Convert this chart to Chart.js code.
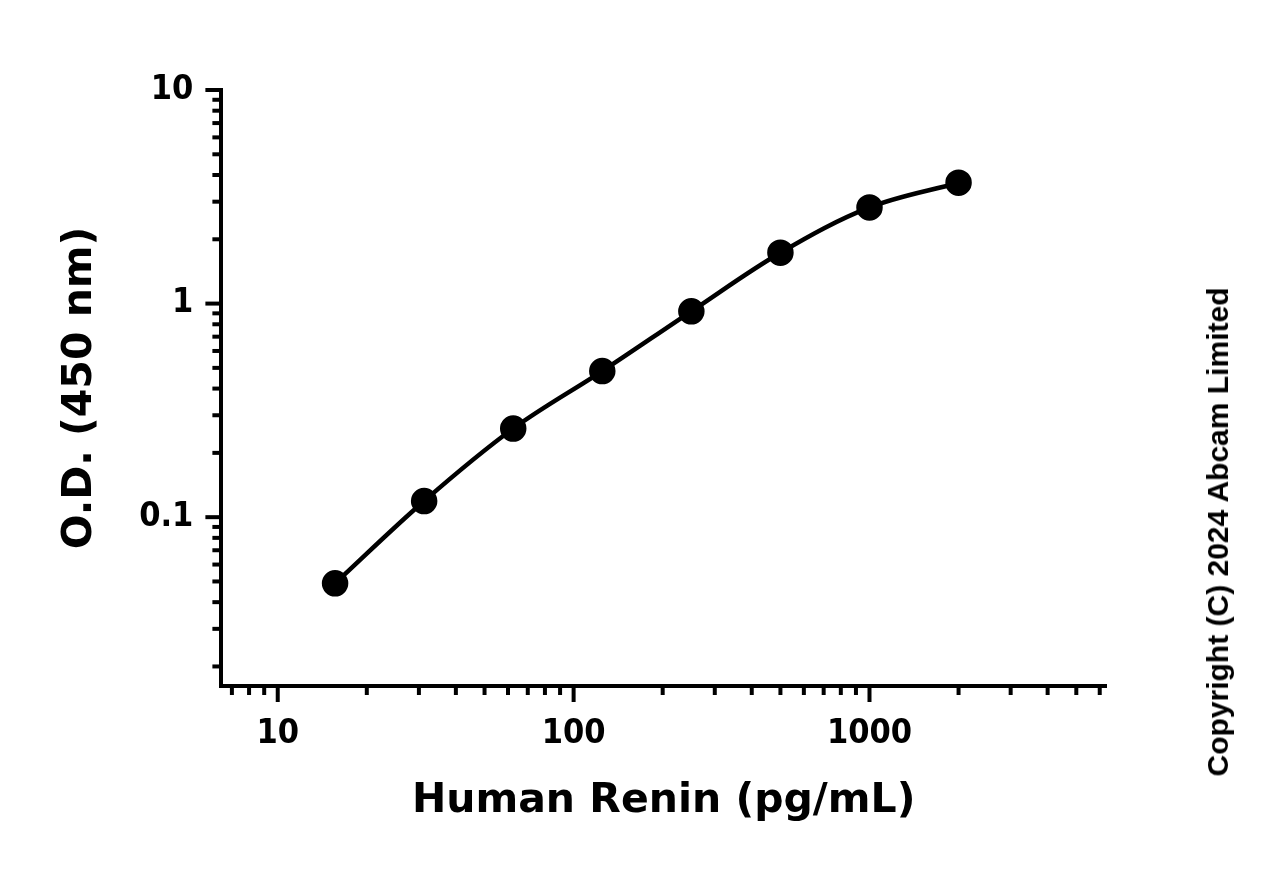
<!DOCTYPE html>
<html>
<head>
<meta charset="utf-8">
<script src="https://cdn.jsdelivr.net/npm/chart.js@4/dist/chart.umd.min.js"></script>
<style>
  body { margin: 0; background: #fff; }
  #wrap { position: relative; width: 1281px; height: 870px; }
  #copy { position: absolute; left: 1218px; top: 532px; transform: translate(-50%, -50%) rotate(-90deg);
          font: bold 30px "Liberation Sans", Arial, sans-serif; white-space: nowrap; color: #000; }
</style>
</head>
<body>
<div id="wrap">
  <canvas id="myChart" width="1281" height="870"></canvas>
  <div id="copy">Copyright (C) 2024 Abcam Limited</div>
</div>
<script>
var concentrations = [15.625, 31.25, 62.5, 125, 250, 500, 1000, 2000];
var odValues = [0.049, 0.119, 0.26, 0.483, 0.92, 1.73, 2.82, 3.68];
var xTickLabels = [10, 100, 1000];
var yTickLabels = [0.1, 1, 10];

function decadeTicks(lo, hi) {
  var out = [];
  for (var e = Math.floor(Math.log10(lo)); e <= Math.ceil(Math.log10(hi)); e++) {
    for (var m = 1; m <= 9; m++) {
      var v = m * Math.pow(10, e);
      if (v >= lo * 0.999 && v <= hi * 1.001) out.push(v);
    }
  }
  return out;
}
function isMajor(v, list) {
  return list.some(function (t) { return Math.abs(t - v) / t < 1e-6; });
}

// hand drawn tick marks so majors and minors get different lengths
var tickMarks = {
  id: 'tickMarks',
  afterDraw: function (chart) {
    var c = chart.ctx, xs = chart.scales.x, ys = chart.scales.y, a = chart.chartArea;
    c.save();
    c.strokeStyle = '#000';
    c.lineWidth = 4;
    decadeTicks(xs.min, xs.max).forEach(function (v) {
      var px = xs.getPixelForValue(v);
      var len = isMajor(v, xTickLabels) ? 16 : 9;
      c.beginPath(); c.moveTo(px, a.bottom); c.lineTo(px, a.bottom + len); c.stroke();
    });
    decadeTicks(ys.min, ys.max).forEach(function (v) {
      var py = ys.getPixelForValue(v);
      var len = isMajor(v, yTickLabels) ? 16 : 9;
      c.beginPath(); c.moveTo(a.left, py); c.lineTo(a.left - len, py); c.stroke();
    });
    c.restore();
  }
};

var tickFont = { family: '"DejaVu Sans Condensed", "DejaVu Sans"', size: 34, weight: 'bold' };

var ctx = document.getElementById('myChart').getContext('2d');
var chart = new Chart(ctx, {
  type: 'scatter',
  data: {
    datasets: [{
      data: concentrations.map(function (x, i) { return { x: x, y: odValues[i] }; }),
      showLine: true,
      tension: 0.35,
      borderColor: '#000',
      borderWidth: 4.5,
      backgroundColor: '#000',
      pointRadius: 11,
      pointHoverRadius: 11
    }]
  },
  options: {
    responsive: false,
    animation: false,
    layout: { padding: { left: 52, right: 175, top: 90, bottom: 40 } },
    plugins: { legend: { display: false }, tooltip: { enabled: false } },
    scales: {
      x: {
        type: 'logarithmic',
        min: 6.45, max: 6300,
        afterBuildTicks: function (s) { s.ticks = xTickLabels.map(function (v) { return { value: v }; }); },
        border: { color: '#000', width: 4 },
        grid: { display: false },
        ticks: { color: '#000', padding: 20, maxRotation: 0, font: tickFont,
                 callback: function (v) { return String(v); } },
        title: {
          display: true, text: 'Human Renin (pg/mL)', color: '#000', padding: { top: 2 },
          font: { family: '"DejaVu Sans"', size: 41, weight: 'bold' }
        }
      },
      y: {
        type: 'logarithmic',
        min: 0.0162, max: 10,
        afterBuildTicks: function (s) { s.ticks = yTickLabels.map(function (v) { return { value: v }; }); },
        border: { color: '#000', width: 4 },
        grid: { display: false },
        ticks: { color: '#000', padding: 20, font: tickFont,
                 callback: function (v) { return String(v); } },
        title: {
          display: true, text: 'O.D. (450 nm)', color: '#000', padding: { bottom: 14 },
          font: { family: '"DejaVu Sans"', size: 41, weight: 'bold' }
        }
      }
    }
  },
  plugins: [tickMarks]
});
</script>
</body>
</html>
